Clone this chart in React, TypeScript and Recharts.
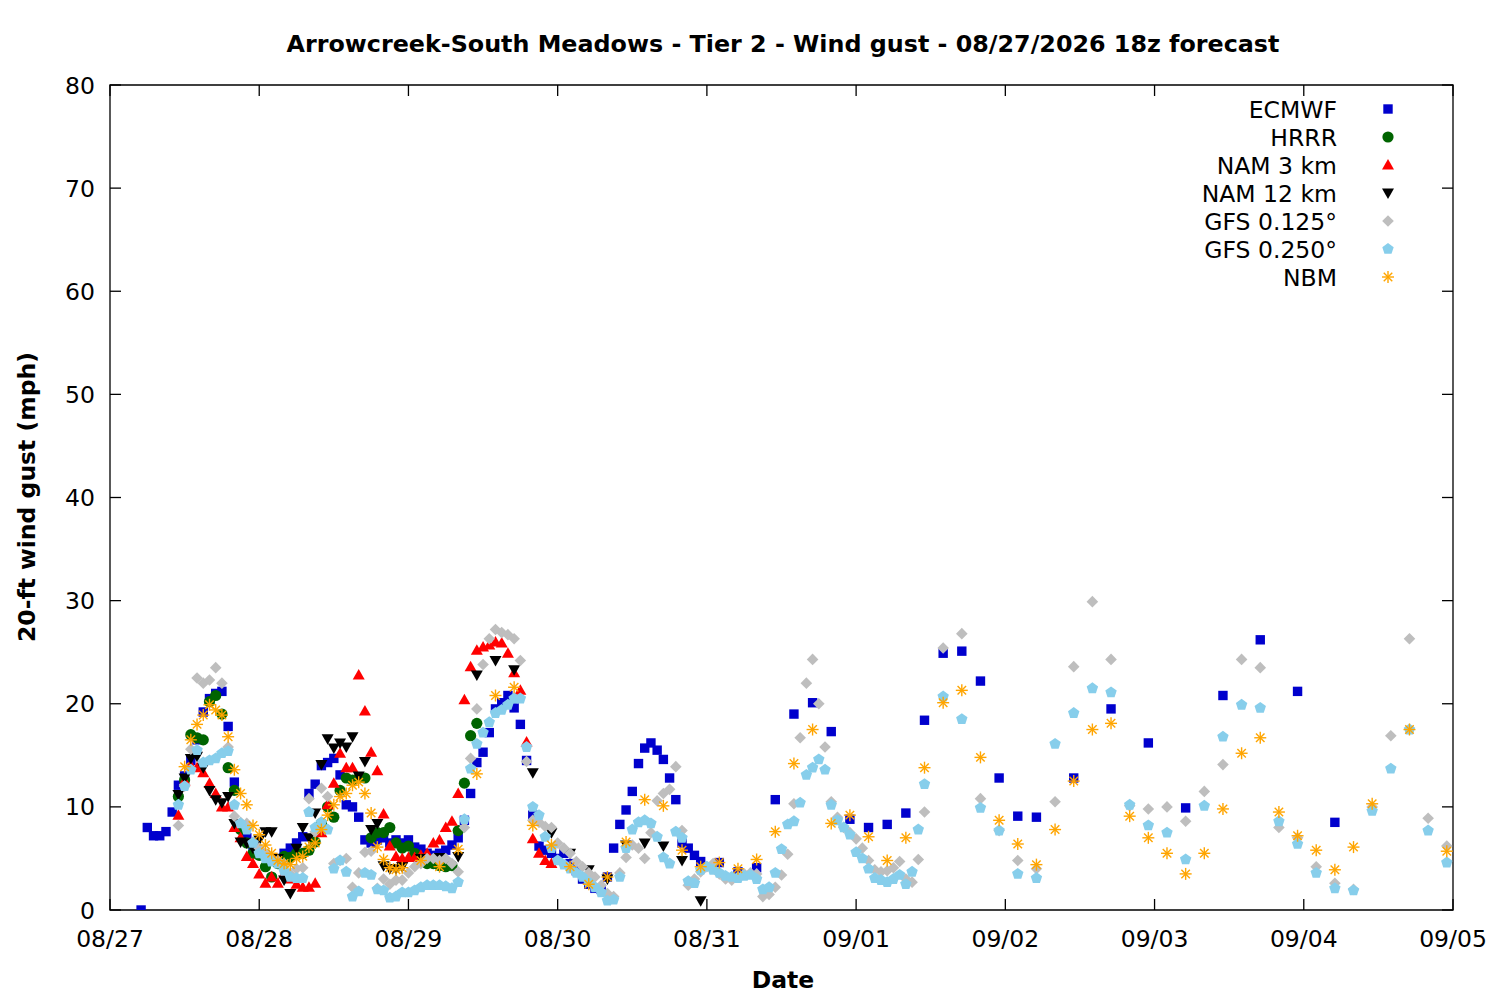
import React from 'react';
import { ScatterChart, Scatter, XAxis, YAxis, ReferenceArea, Legend } from 'recharts';

// ---------- layout constants ----------
const W = 1500;
const H = 1000;
const PLOT_LEFT = 110;
const PLOT_RIGHT = 1453;
const PLOT_TOP = 85;
const PLOT_BOTTOM = 910;
const TICK_LEN = 11;
const FONT = '"DejaVu Sans", "Liberation Sans", sans-serif';
const FS = 23.5;
const FS_TITLE = 23.8;

// ---------- axis ticks ----------
const dateTicks = [0, 24, 48, 72, 96, 120, 144, 168, 192, 216];
const dateLabels = ['08/27', '08/28', '08/29', '08/30', '08/31', '09/01', '09/02', '09/03', '09/04', '09/05'];
const gustTicks = [0, 10, 20, 30, 40, 50, 60, 70, 80];

// ---------- data (x = hours since 08/27 00:00 local, y = gust mph) ----------
const ecmwfHours = [
  5, 6, 7, 8, 9, 10, 11, 12, 13, 14, 15, 16, 17, 18, 19, 20, 21, 22, 23, 24, 25, 26, 27, 28, 29, 30,
  31, 32, 33, 34, 35, 36, 37, 38, 39, 40, 41, 42, 43, 44, 45, 46, 47, 48, 49, 50, 51, 52, 53, 54, 55,
  56, 57, 58, 59, 60, 61, 62, 63, 64, 65, 66, 67, 68, 69, 70, 71, 72, 73, 74, 75, 76, 77, 78, 79, 80,
  81, 82, 83, 84, 85, 86, 87, 88, 89, 90, 91, 92, 93, 94, 95,
  98, 101, 104, 107, 110, 113, 116, 119, 122, 125, 128, 131, 134, 137, 140, 143, 146, 149,
  155, 161, 167, 173, 179, 185, 191, 197,
];
const ecmwfGust = [
  0.0, 8.0, 7.2, 7.2, 7.6, 9.5, 12.1, 13.0, 14.5, 16.5, 19.2, 20.5, 21.0, 21.2, 17.8, 12.4, 8.0, 7.0, 6.0, 5.5, 5.3, 5.0, 5.0, 5.5, 6.0, 6.5,
  7.1, 11.3, 12.2, 14.0, 14.3, 14.7, 13.1, 10.2, 10.0, 9.0, 6.8, 6.5, 6.8, 7.0, 6.5, 6.8, 6.5, 6.8, 6.1, 5.9, 5.5, 5.3, 5.5, 5.8, 6.3,
  7.0, 8.7, 11.3, 14.3, 15.3, 17.2, 19.5, 20.1, 20.8, 19.6, 18.0, 14.5, 9.2, 6.2, 5.8, 5.5, 5.0, 5.5, 4.5, 3.8, 3.0, 2.5, 2.1, 2.0, 3.2,
  6.0, 8.3, 9.7, 11.5, 14.2, 15.7, 16.2, 15.5, 14.6, 12.8, 10.7, 6.5, 6.0, 5.3, 4.7,
  4.6, 3.7, 4.1, 10.7, 19.0, 20.1, 17.3, 8.8, 8.0, 8.3, 9.4, 18.4, 24.9, 25.1, 22.2, 12.8, 9.1, 9.0,
  12.8, 19.5, 16.2, 9.9, 20.8, 26.2, 21.2, 8.5,
];

const hrrrHours = [
  11, 12, 13, 14, 15, 16, 17, 18, 19, 20, 21, 22, 23, 24, 25, 26, 27, 28, 29, 30, 31, 32, 33, 34, 35,
  36, 37, 38, 39, 40, 41, 42, 43, 44, 45, 46, 47, 48, 49, 50, 51, 52, 53, 54, 55, 56, 57, 58, 59,
];
const hrrrGust = [
  11.0, 12.6, 17.0, 16.7, 16.5, 20.2, 20.8, 19.0, 13.8, 11.6, 7.8, 6.5, 5.5, 5.3, 4.2, 3.2, 4.5, 5.2, 5.1, 5.5, 5.5, 5.8, 6.6, 8.4, 10.0,
  9.0, 11.6, 12.8, 12.6, 12.8, 12.8, 7.0, 7.5, 7.5, 8.0, 6.5, 6.0, 6.2, 5.5, 5.0, 4.5, 4.5, 4.3, 4.2, 4.3, 7.7, 12.3, 16.9, 18.1,
];

const nam3Hours = [
  11, 12, 13, 14, 15, 16, 17, 18, 19, 20, 21, 22, 23, 24, 25, 26, 27, 28, 29, 30, 31, 32, 33, 34, 35, 36,
  37, 38, 39, 40, 41, 42, 43, 44, 45, 46, 47, 48, 49, 50, 51, 52, 53, 54, 55, 56, 57, 58, 59, 60, 61,
  62, 63, 64, 65, 66, 67, 68, 69, 70, 71,
];
const nam3Gust = [
  9.2, 12.5, 14.0, 13.8, 13.3, 12.3, 11.3, 10.0, 10.0, 8.0, 7.0, 5.2, 4.5, 3.5, 2.6, 3.2, 2.6, 3.5, 3.0, 2.5, 2.2, 2.2, 2.6, 7.5, 10.2, 12.3,
  15.2, 13.8, 13.8, 22.8, 19.3, 15.3, 13.5, 9.3, 6.2, 5.2, 5.0, 5.1, 5.1, 5.3, 5.5, 6.5, 6.8, 8.0, 8.6, 11.3, 20.4, 23.6, 25.2, 25.5, 25.7,
  26.0, 25.9, 24.9, 23.0, 21.3, 16.3, 6.9, 5.5, 4.8, 4.5,
];

const nam12Hours = [
  11, 12, 13, 14, 15, 16, 17, 18, 19, 20, 21, 22, 23, 24, 25, 26, 27, 28, 29, 30, 31, 32, 33, 34, 35,
  36, 37, 38, 39, 40, 41, 42, 43, 44, 45, 46, 47,
  50, 53, 56, 59, 62, 65, 68, 71, 74, 77, 80, 83, 86, 89, 92, 95,
];
const nam12Gust = [
  11.2, 12.8, 14.7, 14.9, 13.8, 11.6, 10.7, 10.4, 11.0, 8.4, 6.6, 6.5, 6.0, 6.8, 7.6, 7.6, 5.0, 2.9, 1.6, 6.0, 8.0, 7.0, 9.4, 14.1, 16.6,
  15.7, 16.2, 15.8, 16.8, 13.0, 14.4, 7.8, 8.4, 4.3, 4.0, 4.0, 4.2,
  5.0, 5.1, 5.2, 22.8, 24.2, 23.3, 13.3, 7.5, 5.5, 3.9, 3.0, 6.3, 6.5, 6.2, 4.8, 0.9,
];

const gfsHours = [
  11, 12, 13, 14, 15, 16, 17, 18, 19, 20, 21, 22, 23, 24, 25, 26, 27, 28, 29, 30,
  31, 32, 33, 34, 35, 36, 37, 38, 39, 40, 41, 42, 43, 44, 45, 46, 47, 48, 49, 50,
  51, 52, 53, 54, 55, 56, 57, 58, 59, 60, 61, 62, 63, 64, 65, 66, 67, 68, 69, 70,
  71, 72, 73, 74, 75, 76, 77, 78, 79, 80, 81, 82, 83, 84, 85, 86, 87, 88, 89, 90,
  91, 92, 93, 94, 95, 96, 97, 98, 99, 100, 101, 102, 103, 104, 105, 106, 107, 108, 109, 110,
  111, 112, 113, 114, 115, 116, 117, 118, 119, 120, 121, 122, 123, 124, 125, 126, 127, 128, 129, 130, 131,
  134, 137, 140, 143, 146, 149, 152, 155, 158, 161, 164, 167, 170, 173, 176, 179, 182, 185, 188, 191,
  194, 197, 200, 203, 206, 209, 212, 215,
];
const gfs0125Gust = [
  8.2, 12.0, 15.6, 22.5, 22.0, 22.3, 23.5, 22.0, 15.8, 9.1, 8.5, 8.4, 6.6, 6.0, 5.5, 5.0, 4.8, 4.5, 3.5, 4.0,
  4.1, 10.8, 7.6, 11.8, 11.0, 4.5, 4.8, 5.0, 2.2, 3.6, 5.6, 5.7, 2.1, 3.0, 2.5, 2.9, 2.9, 3.6, 4.2, 4.5,
  5.0, 5.0, 4.8, 5.0, 4.5, 3.7, 8.0, 14.7, 19.5, 23.8, 26.3, 27.2, 26.9, 26.7, 26.3, 24.2, 14.4, 8.7, 8.5, 8.1,
  8.0, 6.5, 6.0, 5.5, 4.7, 4.2, 3.6, 3.2, 2.4, 1.6, 1.3, 3.6, 5.1, 6.3, 6.0, 5.0, 7.5, 10.6, 11.3, 11.7,
  13.9, 7.7, 2.4, 3.0, 3.7, 4.2, 4.5, 3.5, 3.0, 2.9, 3.2, 3.5, 3.6, 3.5, 1.3, 1.5, 2.2, 3.4, 5.4, 10.3,
  16.7, 22.0, 24.3, 20.0, 15.8, 10.5, 9.0, 8.0, 7.5, 6.9, 6.0, 4.8, 3.9, 3.7, 3.8, 4.1, 4.7, 3.0, 2.7, 4.9, 9.5,
  25.4, 26.8, 10.8, 7.7, 4.8, 4.0, 10.5, 23.6, 29.9, 24.3, 10.1, 9.8, 10.0, 8.6, 11.5, 14.1, 24.3, 23.5, 8.0, 7.0,
  4.2, 2.6, 2.0, 10.0, 16.9, 26.3, 8.9, 6.2,
];
const gfs0250Gust = [
  10.2, 12.0, 13.6, 15.5, 14.3, 14.5, 14.7, 15.2, 15.4, 10.2, 8.4, 7.8, 6.5, 5.5, 5.0, 4.7, 4.5, 3.8, 3.2, 3.1,
  3.1, 9.5, 8.0, 8.5, 7.8, 4.0, 4.8, 3.7, 1.3, 1.8, 3.6, 3.4, 2.0, 1.9, 1.2, 1.3, 1.7, 1.7, 1.9, 2.2,
  2.4, 2.4, 2.4, 2.3, 2.1, 2.7, 8.8, 13.7, 16.1, 17.2, 18.2, 19.1, 19.4, 19.9, 20.5, 20.5, 15.8, 10.0, 9.2, 7.1,
  6.0, 4.8, 4.4, 4.0, 3.6, 3.2, 2.7, 2.2, 1.7, 0.9, 1.0, 3.2, 6.0, 7.8, 8.5, 8.7, 8.4, 7.1, 5.1, 4.5,
  7.6, 7.0, 2.8, 2.6, 3.9, 4.2, 3.9, 3.6, 3.3, 3.2, 3.1, 3.3, 3.4, 3.0, 2.0, 2.2, 3.6, 5.9, 8.3, 8.6,
  10.4, 13.1, 13.8, 14.6, 13.6, 10.2, 8.7, 8.0, 7.3, 5.6, 5.0, 4.0, 3.1, 2.9, 2.7, 3.0, 3.4, 2.5, 3.7, 7.8, 12.2,
  20.7, 18.5, 9.9, 7.7, 3.5, 3.1, 16.1, 19.1, 21.5, 21.1, 10.2, 8.2, 7.5, 4.9, 10.1, 16.8, 19.9, 19.6, 8.6, 6.4,
  3.6, 2.1, 1.9, 9.6, 13.7, 17.5, 7.7, 4.6,
];

const nbmHours = [
  12, 13, 14, 15, 16, 17, 18, 19, 20, 21, 22, 23, 24, 25, 26, 27, 28, 29, 30, 31, 32, 33, 34, 35,
  36, 37, 38, 39, 40, 41, 42, 43, 44, 45, 46, 47,
  50, 53, 56, 59, 62, 65, 68, 71, 74, 77, 80, 83, 86, 89, 92, 95, 98, 101, 104, 107, 110, 113,
  116, 119, 122, 125, 128, 131, 134, 137, 140, 143, 146, 149, 152, 155, 158, 161, 164, 167, 170, 173,
  176, 179, 182, 185, 188, 191, 194, 197, 200, 203, 209, 215,
];
const nbmGust = [
  13.9, 16.5, 18.0, 18.9, 19.9, 19.4, 18.9, 16.8, 13.6, 11.3, 10.2, 8.2, 7.3, 6.3, 5.5, 4.8, 4.5, 4.4, 5.0, 5.2, 6.1, 6.5, 7.8, 9.2,
  10.2, 11.0, 11.3, 12.1, 12.4, 11.3, 9.4, 6.1, 4.9, 4.1, 3.9, 4.1,
  4.8, 4.2, 5.9, 13.2, 20.8, 21.6, 8.2, 6.3, 4.2, 2.5, 3.2, 6.6, 10.7, 10.1, 5.8, 4.2, 4.6, 4.0, 4.9, 7.6, 14.2, 17.5,
  8.4, 9.2, 7.1, 4.8, 7.0, 13.8, 20.1, 21.3, 14.8, 8.7, 6.4, 4.4, 7.8, 12.5, 17.5, 18.1, 9.1, 7.0, 5.5, 3.5,
  5.5, 9.8, 15.2, 16.7, 9.5, 7.2, 5.8, 3.9, 6.1, 10.3, 17.5, 5.7,
];

const toPoints = (hours: number[], gust: number[]) => hours.map((h, i) => ({ h, v: gust[i] }));

type Kind = 'square' | 'circle' | 'up' | 'down' | 'diamond' | 'pentagon' | 'star';

const series: { name: string; kind: Kind; color: string; data: { h: number; v: number }[] }[] = [
  { name: 'ECMWF', kind: 'square', color: '#0000cd', data: toPoints(ecmwfHours, ecmwfGust) },
  { name: 'HRRR', kind: 'circle', color: '#006400', data: toPoints(hrrrHours, hrrrGust) },
  { name: 'NAM 3 km', kind: 'up', color: '#ff0000', data: toPoints(nam3Hours, nam3Gust) },
  { name: 'NAM 12 km', kind: 'down', color: '#000000', data: toPoints(nam12Hours, nam12Gust) },
  { name: 'GFS 0.125°', kind: 'diamond', color: '#bebebe', data: toPoints(gfsHours, gfs0125Gust) },
  { name: 'GFS 0.250°', kind: 'pentagon', color: '#87ceeb', data: toPoints(gfsHours, gfs0250Gust) },
  { name: 'NBM', kind: 'star', color: '#ffa500', data: toPoints(nbmHours, nbmGust) },
];

function Marker({ kind, cx, cy, color }: { kind: Kind; cx: number; cy: number; color: string }) {
  if (cx == null || cy == null || isNaN(cx) || isNaN(cy)) return null;
  switch (kind) {
    case 'square':
      return <rect x={cx - 4.7} y={cy - 4.7} width={9.4} height={9.4} fill={color} />;
    case 'circle':
      return <circle cx={cx} cy={cy} r={5.6} fill={color} />;
    case 'up':
      return <polygon points={`${cx - 6},${cy + 4.5} ${cx + 6},${cy + 4.5} ${cx},${cy - 6}`} fill={color} />;
    case 'down':
      return <polygon points={`${cx - 6},${cy - 4.5} ${cx + 6},${cy - 4.5} ${cx},${cy + 6}`} fill={color} />;
    case 'diamond':
      return <polygon points={`${cx},${cy - 5.8} ${cx + 5.8},${cy} ${cx},${cy + 5.8} ${cx - 5.8},${cy}`} fill={color} />;
    case 'pentagon': {
      const r = 6;
      const pts = [0, 1, 2, 3, 4]
        .map((k) => {
          const a = -Math.PI / 2 + (k * 2 * Math.PI) / 5;
          return `${cx + r * Math.cos(a)},${cy + r * Math.sin(a)}`;
        })
        .join(' ');
      return <polygon points={pts} fill={color} />;
    }
    case 'star': {
      const r = 6;
      const d = r * Math.SQRT1_2;
      return (
        <g stroke={color} strokeWidth={1.4} fill="none">
          <line x1={cx - r} y1={cy} x2={cx + r} y2={cy} />
          <line x1={cx} y1={cy - r} x2={cx} y2={cy + r} />
          <line x1={cx - d} y1={cy - d} x2={cx + d} y2={cy + d} />
          <line x1={cx - d} y1={cy + d} x2={cx + d} y2={cy - d} />
        </g>
      );
    }
  }
  return null;
}

const XTick = (props: any) => {
  const { x, payload } = props;
  const i = dateTicks.indexOf(payload.value);
  return (
    <g>
      <line x1={x} x2={x} y1={PLOT_BOTTOM} y2={PLOT_BOTTOM - TICK_LEN} stroke="#000" strokeWidth={1.3} />
      <line x1={x} x2={x} y1={PLOT_TOP} y2={PLOT_TOP + TICK_LEN} stroke="#000" strokeWidth={1.3} />
      <text x={x} y={946.5} textAnchor="middle" fontFamily={FONT} fontSize={FS} fill="#000">
        {dateLabels[i]}
      </text>
    </g>
  );
};

const YTick = (props: any) => {
  const { y, payload } = props;
  return (
    <g>
      <line x1={PLOT_LEFT} x2={PLOT_LEFT + TICK_LEN} y1={y} y2={y} stroke="#000" strokeWidth={1.3} />
      <line x1={PLOT_RIGHT} x2={PLOT_RIGHT - TICK_LEN} y1={y} y2={y} stroke="#000" strokeWidth={1.3} />
      <text x={95} y={y + 8.5} textAnchor="end" fontFamily={FONT} fontSize={FS} fill="#000">
        {payload.value}
      </text>
    </g>
  );
};

const LegendBox = () => (
  <svg width={230} height={200} style={{ display: 'block', overflow: 'visible' }}>
    {series.map((s, i) => {
      const cy = 14 + i * 28;
      return (
        <g key={s.name}>
          <text x={147} y={cy + 8.5} textAnchor="end" fontFamily={FONT} fontSize={FS} fill="#000">
            {s.name}
          </text>
          <Marker kind={s.kind} cx={198} cy={cy} color={s.color} />
        </g>
      );
    })}
  </svg>
);

export default function App() {
  return (
    <div style={{ position: 'absolute', left: 0, top: 0, width: W, height: H, background: '#fff' }}>
      <ScatterChart
        width={W}
        height={H}
        margin={{ top: PLOT_TOP, right: W - PLOT_RIGHT, bottom: H - PLOT_BOTTOM - 30, left: PLOT_LEFT - 60 }}
      >
        <XAxis
          type="number"
          dataKey="h"
          domain={[0, 216]}
          ticks={dateTicks}
          interval={0}
          allowDataOverflow
          axisLine={false}
          tickLine={false}
          tick={<XTick />}
          height={30}
        />
        <YAxis
          type="number"
          dataKey="v"
          domain={[0, 80]}
          ticks={gustTicks}
          interval={0}
          allowDataOverflow
          axisLine={false}
          tickLine={false}
          tick={<YTick />}
          width={60}
        />
        {series.map((s) => (
          <Scatter
            key={s.name}
            name={s.name}
            data={s.data}
            fill={s.color}
            isAnimationActive={false}
            shape={(p: any) => <Marker kind={s.kind} cx={p.cx} cy={p.cy} color={s.color} />}
          />
        ))}
        <ReferenceArea x1={0} x2={216} y1={0} y2={80} fill="none" fillOpacity={0} stroke="#000" strokeWidth={1.3} ifOverflow="visible" />
        <Legend
          layout="horizontal"
          verticalAlign="middle"
          align="center"
          content={() => <LegendBox />}
          wrapperStyle={{ position: 'absolute', left: 1190, top: 95, width: 230, height: 200 }}
        />
      </ScatterChart>
      <svg
        width={W}
        height={H}
        style={{ position: 'absolute', left: 0, top: 0, pointerEvents: 'none' }}
      >
        <text x={783} y={52} textAnchor="middle" fontFamily={FONT} fontSize={FS_TITLE} fontWeight="bold" fill="#000">
          Arrowcreek-South Meadows - Tier 2 - Wind gust - 08/27/2026 18z forecast
        </text>
        <text x={783} y={988} textAnchor="middle" fontFamily={FONT} fontSize={FS} fontWeight="bold" fill="#000">
          Date
        </text>
        <text
          x={0}
          y={0}
          transform="translate(35,497) rotate(-90)"
          textAnchor="middle"
          fontFamily={FONT}
          fontSize={FS}
          fontWeight="bold"
          fill="#000"
        >
          20-ft wind gust (mph)
        </text>
      </svg>
    </div>
  );
}
